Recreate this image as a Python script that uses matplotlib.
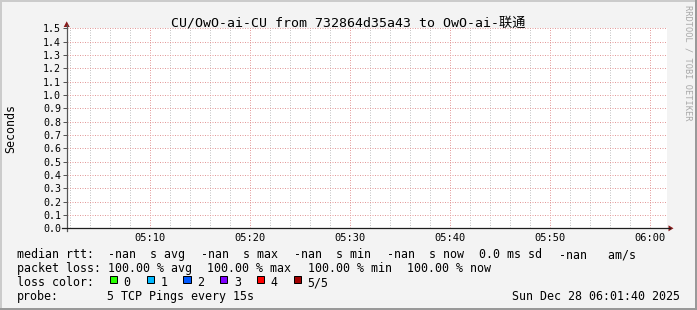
import datetime as dt
import matplotlib
matplotlib.use('Agg')
import matplotlib.pyplot as plt
import matplotlib.dates as mdates
from matplotlib.patches import Rectangle, Polygon
from matplotlib.lines import Line2D

plt.rcParams['font.family'] = ['DejaVu Sans Mono', 'Noto Sans CJK SC']

# --- data -------------------------------------------------------------
title = 'CU/OwO-ai-CU from 732864d35a43 to OwO-ai-联通'
start = dt.datetime(2025, 12, 28, 5, 1, 40)
end = dt.datetime(2025, 12, 28, 6, 1, 40)

# no samples came back (100% loss), so the series is empty
sample_times = []
median_rtt = []

y_ticks = [0.0, 0.1, 0.2, 0.3, 0.4, 0.5, 0.6, 0.7, 0.8, 0.9, 1.0, 1.1, 1.2, 1.3, 1.4, 1.5]
y_labels = ['0.0', '0.1', '0.2', '0.3', '0.4', '0.5', '0.6', '0.7',
            '0.8', '0.9', '1.0', '1.1', '1.2', '1.3', '1.4', '1.5']
time_ticks = [dt.datetime(2025, 12, 28, 5, 10), dt.datetime(2025, 12, 28, 5, 20),
              dt.datetime(2025, 12, 28, 5, 30), dt.datetime(2025, 12, 28, 5, 40),
              dt.datetime(2025, 12, 28, 5, 50), dt.datetime(2025, 12, 28, 6, 0)]
time_labels = ['05:10', '05:20', '05:30', '05:40', '05:50', '06:00']

rtt_stats = ['-nan  s avg', '-nan  s max', '-nan  s min', '-nan  s now', '0.0 ms sd', '-nan   am/s']
loss_stats = ['100.00 % avg', '100.00 % max', '100.00 % min', '100.00 % now']
loss_labels = ['0', '1', '2', '3', '4', '5/5']
loss_colors = ['#26ff00', '#00b8ff', '#0059ff', '#7e00ff', '#ff0000', '#a10000']
probe_text = '5 TCP Pings every 15s'
stamp = 'Sun Dec 28 06:01:40 2025'

# --- layout helpers (pixel coords from top-left) -----------------------
W, H = 697, 310
def fx(x):
    return x / W
def fy(y):
    return 1 - y / H

BG = '#f3f3f3'
fig = plt.figure(figsize=(W / 100, H / 100), dpi=100, facecolor=BG)

# 3d border like rrdtool
fig.patches.append(Rectangle((0, fy(2)), 1, 2 / H, transform=fig.transFigure, color='#cbcbcb', lw=0))
fig.patches.append(Rectangle((0, 0), 2 / W, 1, transform=fig.transFigure, color='#cbcbcb', lw=0))
fig.patches.append(Rectangle((fx(695), 0), 2 / W, 1, transform=fig.transFigure, color='#999999', lw=0))
fig.patches.append(Rectangle((0, 0), 1, 2 / H, transform=fig.transFigure, color='#999999', lw=0))

ax = fig.add_axes([fx(67), fy(228.3), 600 / W, 200 / H])
ax.set_facecolor('white')
for s in ax.spines.values():
    s.set_visible(False)

ax.plot(sample_times, median_rtt, color='#26ff00')

ax.set_xlim(start, end)
ax.set_ylim(0, 1.5)
ax.set_yticks(y_ticks)
ax.set_yticklabels(y_labels)
ax.set_xticks(time_ticks)
ax.set_xticklabels(time_labels)
ax.xaxis.set_minor_locator(mdates.MinuteLocator(byminute=range(0, 60, 2)))

# light dotted grid, red for major, grey for minor
dots = (0, (1, 1.5))
ax.yaxis.grid(True, color='#e39a9a', linestyle=dots, linewidth=0.72)
ax.xaxis.grid(True, which='major', color='#e39a9a', linestyle=dots, linewidth=0.72)
ax.xaxis.grid(True, which='minor', color='#c4c4c4', linestyle=dots, linewidth=0.72)
ax.set_axisbelow(True)

ax.tick_params(axis='y', direction='out', length=2.9, width=0.72, color='#555555',
               pad=1.4, labelsize=7.2)
ax.tick_params(axis='x', which='both', length=0, pad=3.2, labelsize=7.5)

# axes lines and arrows
fig.lines.append(Line2D([fx(66.5), fx(66.5)], [fy(231), fy(25)], transform=fig.transFigure,
                        color='#555555', lw=0.9))
fig.lines.append(Line2D([fx(62), fx(670)], [fy(228.3), fy(228.3)], transform=fig.transFigure,
                        color='#1f1f1f', lw=0.9))
arrow = '#8b1a1a'
fig.patches.append(Polygon([(fx(66.7), fy(21.3)), (fx(63.7), fy(27)), (fx(69.7), fy(27))],
                           closed=True, transform=fig.transFigure, color=arrow, lw=0))
fig.patches.append(Polygon([(fx(673.5), fy(228.3)), (fx(668.5), fy(225.3)), (fx(668.5), fy(231.3))],
                           closed=True, transform=fig.transFigure, color=arrow, lw=0))

# title, axis label, watermark
fig.text(fx(348.5), fy(26.5), title, ha='center', va='baseline', fontsize=9.5)
fig.text(fx(10.5), fy(128.3), 'Seconds', rotation=90, ha='center', va='center', fontsize=8.4)
fig.text(fx(688.3), fy(5), 'RRDTOOL / TOBI OETIKER', rotation=270, ha='center', va='top',
         fontsize=6.2, color='#a8a8a8')

# legend
LF = 8.4
def leg(x, y, s, **kw):
    fig.text(fx(x), fy(y), s, ha='left', va='baseline', fontsize=LF, **kw)

leg(17.3, 258, 'median rtt:')
for x, s in zip([108.3, 200.7, 294, 386.7, 479.3, 559.3], rtt_stats):
    leg(x, 258, s)

leg(17.3, 272, 'packet loss:')
for x, s in zip([107.5, 207.3, 307.7, 407.3], loss_stats):
    leg(x, 272, s)

leg(17.3, 286, 'loss color:')
box_x = [109, 146, 183, 219.5, 256, 293]
for x, lab, c in zip(box_x, loss_labels, loss_colors):
    fig.patches.append(Rectangle((fx(x + 0.5), fy(282.5)), 7 / W, 7 / H, transform=fig.transFigure,
                                 facecolor=c, edgecolor='black', lw=0.72))
    leg(x + 14.5, 286, lab)

leg(17.3, 300, 'probe:')
leg(107.3, 300, probe_text)
fig.text(fx(680), fy(300), stamp, ha='right', va='baseline', fontsize=LF)

fig.savefig('out.png', dpi=100, facecolor=BG)
